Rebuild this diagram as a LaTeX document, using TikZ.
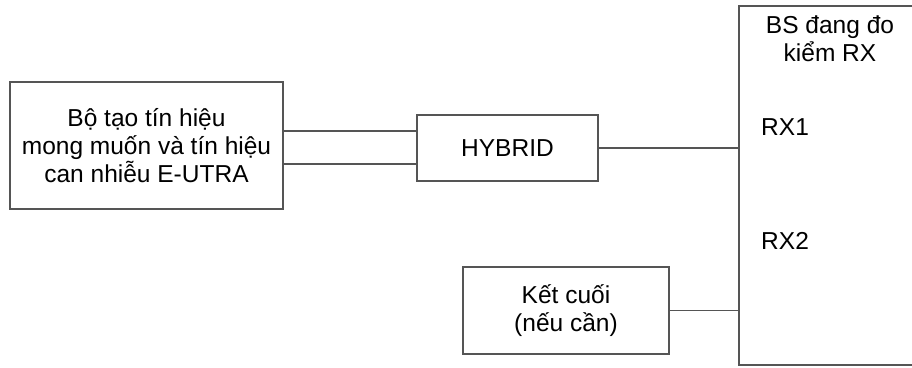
\documentclass[tikz,border=0pt]{standalone}
\usepackage{fontspec}
\setmainfont{Liberation Sans}
\usepackage{tikz}
\usetikzlibrary{shapes,arrows,positioning,calc}
\usepackage{xcolor}

\definecolor{linegray}{RGB}{85,85,85}
\tikzset{
  boite/.style={rectangle, draw=linegray, line width=1.3bp, inner sep=0pt, align=center},
  fil/.style={draw=linegray, line width=1.3bp},
  texte/.style={inner sep=0pt, align=center}
}

\begin{document}
\begin{tikzpicture}[x=1bp, y=1bp, font=\fontsize{24.6}{28.1}\selectfont]

\useasboundingbox (0,0) rectangle (912,367);
\clip (0,0) rectangle (912,367);

\node[boite, minimum width=273bp, minimum height=127bp] (src) at (146.5,221.5) {Bộ tạo tín hiệu\\mong muốn và tín hiệu\\can nhiễu E-UTRA};
\node[boite, minimum width=181bp, minimum height=66bp] (hyb) at (507.5,219) {HYBRID};
\node[boite, minimum width=206bp, minimum height=87bp] (term) at (566,56.5) {Kết cuối\\(nếu cần)};

% BS, coupe a droite
\node[boite, minimum width=221bp, minimum height=359bp] (bs) at (849.5,181.5) {};
\node[texte] (bstitre) at (830,328.5) {BS đang đo\\kiểm RX};
\node[texte, anchor=base west] (rx1) at (761,232) {RX1};
\node[texte, anchor=base west] (rx2) at (761,118) {RX2};

\draw[fil] ([yshift=14.5bp]src.east) -- ([yshift=14.5bp]src.east -| hyb.west);
\draw[fil] ([yshift=-18.5bp]src.east) -- ([yshift=-18.5bp]src.east -| hyb.west);
\draw[fil] (hyb.east) -- (hyb.east -| bs.west);
\draw[fil] (term.east) -- (term.east -| bs.west);

\end{tikzpicture}
\end{document}
